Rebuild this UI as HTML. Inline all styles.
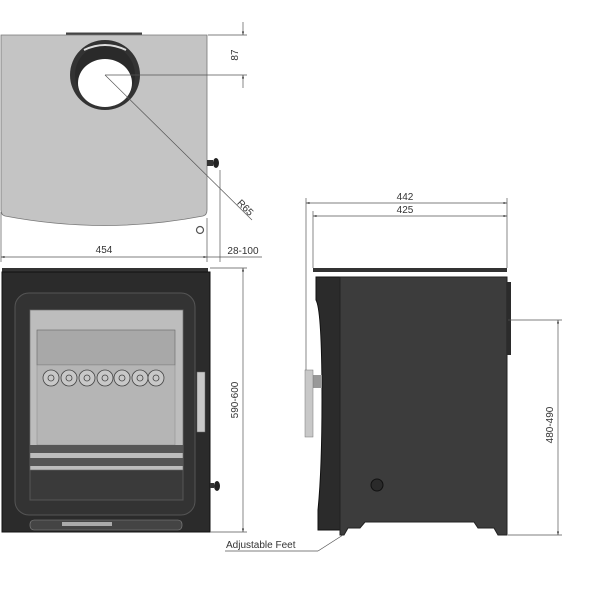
<!DOCTYPE html>
<html><head><style>body{margin:0;background:#fff}svg{display:block}text{font-family:"Liberation Sans",sans-serif;fill:#333}</style></head><body>
<svg width="600" height="600" viewBox="0 0 600 600" xmlns="http://www.w3.org/2000/svg">
<defs><marker id="a" viewBox="0 0 10 10" refX="10" refY="5" markerWidth="7" markerHeight="5" orient="auto-start-reverse"><path d="M0,2 L10,5 L0,8z" fill="#333"/></marker></defs>
<!-- top view -->
<rect x="66" y="32.5" width="76" height="3" fill="#444"/>
<path d="M1,35 H207 V210 Q207,215 203,216 Q105,235 5,216 Q1,215 1,210 Z" fill="#c4c4c4" stroke="#777" stroke-width="0.8"/>
<circle cx="105" cy="75" r="35" fill="#333"/>
<circle cx="105" cy="75" r="30" fill="#2a2a2a"/>
<ellipse cx="105" cy="83" rx="27" ry="24" fill="#fff"/>
<path d="M84,50 Q105,40 126,50" stroke="#ddd" stroke-width="2" fill="none"/>
<rect x="207" y="160" width="6" height="6" fill="#333"/><ellipse cx="216" cy="163" rx="3" ry="5" fill="#222"/>
<circle cx="200" cy="230" r="3.5" fill="none" stroke="#555" stroke-width="1.2"/>
<g stroke="#555" stroke-width="0.7" fill="none">
<line x1="208" y1="35" x2="247" y2="35"/><line x1="105" y1="75" x2="247" y2="75"/>
<line x1="243" y1="22" x2="243" y2="35" marker-end="url(#a)"/><line x1="243" y1="88" x2="243" y2="75" marker-end="url(#a)"/>
<line x1="105" y1="75" x2="252" y2="220"/>
<line x1="1" y1="212" x2="1" y2="262"/><line x1="207" y1="218" x2="207" y2="262"/><line x1="220" y1="170" x2="220" y2="262"/>
<line x1="1" y1="257" x2="207" y2="257" marker-start="url(#a)" marker-end="url(#a)"/>
<line x1="207" y1="257" x2="262" y2="257"/>
</g>
<text x="238" y="55" font-size="10" transform="rotate(-90 238 55)" text-anchor="middle">87</text>
<text x="243" y="210" font-size="10" transform="rotate(45 243 210)" text-anchor="middle">R65</text>
<text x="104" y="253" font-size="10" text-anchor="middle">454</text>
<text x="243" y="254" font-size="10" text-anchor="middle">28-100</text>
<!-- front view -->
<rect x="2" y="268" width="206" height="4" fill="#333"/>
<rect x="2" y="272" width="208" height="260" fill="#2b2b2b" stroke="#111"/>
<rect x="15" y="293" width="180" height="222" rx="14" fill="#333" stroke="#555"/>
<rect x="30" y="310" width="153" height="190" fill="#3a3a3a" stroke="#555"/>
<rect x="30" y="310" width="153" height="160" fill="#bdbdbd" stroke="#666" stroke-width="0.6"/>
<rect x="37" y="330" width="138" height="35" fill="#a8a8a8" stroke="#666" stroke-width="0.6"/>
<rect x="37" y="365" width="138" height="80" fill="#b5b5b5" stroke="#888" stroke-width="0.5"/>
<g fill="#c8c8c8" stroke="#444" stroke-width="0.8">
<circle cx="51" cy="378" r="8"/><circle cx="69" cy="378" r="8"/><circle cx="87" cy="378" r="8"/><circle cx="105" cy="378" r="8"/><circle cx="122" cy="378" r="8"/><circle cx="140" cy="378" r="8"/><circle cx="156" cy="378" r="8"/>
<circle cx="51" cy="378" r="3"/><circle cx="69" cy="378" r="3"/><circle cx="87" cy="378" r="3"/><circle cx="105" cy="378" r="3"/><circle cx="122" cy="378" r="3"/><circle cx="140" cy="378" r="3"/><circle cx="156" cy="378" r="3"/>
</g>
<rect x="30" y="445" width="153" height="8" fill="#555"/>
<rect x="30" y="458" width="153" height="8" fill="#555"/>
<rect x="197" y="372" width="8" height="60" fill="#c8c8c8" stroke="#666" stroke-width="0.5"/>
<rect x="210" y="483" width="4" height="5" fill="#333"/><ellipse cx="217" cy="486" rx="3" ry="5" fill="#222"/>
<rect x="30" y="520" width="152" height="10" rx="4" fill="#444" stroke="#888" stroke-width="0.6"/>
<rect x="62" y="522" width="50" height="4" fill="#aaa"/>
<g stroke="#555" stroke-width="0.7" fill="none">
<line x1="210" y1="268" x2="247" y2="268"/><line x1="210" y1="532" x2="247" y2="532"/>
<line x1="243" y1="268" x2="243" y2="532" marker-start="url(#a)" marker-end="url(#a)"/>
</g>
<text x="238" y="400" font-size="10" transform="rotate(-90 238 400)" text-anchor="middle">590-600</text>
<!-- side view -->
<rect x="313" y="268" width="194" height="4" fill="#333"/>
<path d="M316,277 H340 V530 H318 V510 Q322,470 322,400 Q322,310 316,300 Z" fill="#2b2b2b" stroke="#111"/>
<path d="M340,277 H507 V535 H498 L494,528 H478 L474,522 H365 L360,528 H348 L344,535 H340 Z" fill="#3c3c3c" stroke="#222"/>
<rect x="507" y="282" width="4" height="73" fill="#2b2b2b"/>
<rect x="313" y="375" width="9" height="13" fill="#999"/>
<rect x="305" y="370" width="8" height="67" fill="#c8c8c8" stroke="#777" stroke-width="0.5"/>
<circle cx="377" cy="485" r="6" fill="#2a2a2a" stroke="#111"/>
<g stroke="#555" stroke-width="0.7" fill="none">
<line x1="306" y1="198" x2="306" y2="370"/><line x1="313" y1="211" x2="313" y2="268"/><line x1="507" y1="198" x2="507" y2="268"/>
<line x1="306" y1="203" x2="507" y2="203" marker-start="url(#a)" marker-end="url(#a)"/>
<line x1="313" y1="216" x2="507" y2="216" marker-start="url(#a)" marker-end="url(#a)"/>
<line x1="508" y1="320" x2="562" y2="320"/><line x1="508" y1="535" x2="562" y2="535"/>
<line x1="558" y1="320" x2="558" y2="535" marker-start="url(#a)" marker-end="url(#a)"/>
<line x1="225" y1="551" x2="318" y2="551"/><line x1="318" y1="551" x2="343" y2="535"/>
</g>
<text x="405" y="200" font-size="10" text-anchor="middle">442</text>
<text x="405" y="213" font-size="10" text-anchor="middle">425</text>
<text x="553" y="425" font-size="10" transform="rotate(-90 553 425)" text-anchor="middle">480-490</text>
<text x="226" y="548" font-size="10">Adjustable Feet</text>
</svg>
</body></html>
